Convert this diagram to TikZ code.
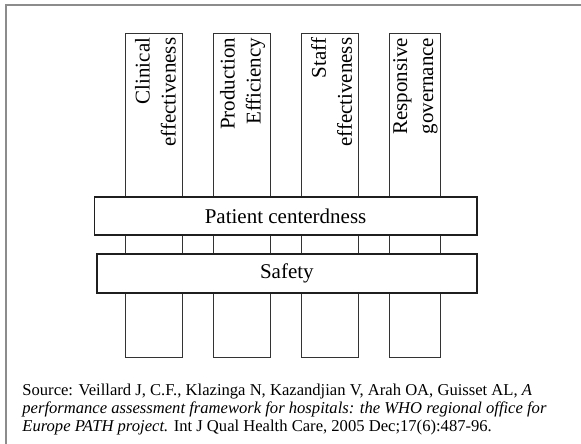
\documentclass[tikz,border=0pt]{standalone}
\usepackage{fontspec}
\setmainfont{Liberation Serif}
\begin{document}
\begin{tikzpicture}[x=1pt,y=-1pt,
  frameline/.style={draw=black!45, line width=1.5pt},
  pillar/.style={draw=black!80, line width=0.9pt, fill=white, inner sep=0pt, minimum height=324.2pt},
  band/.style={draw=black!88, line width=1.8pt, fill=white, inner sep=0pt, font=\fontsize{21}{25}\selectfont},
  ptext/.style={rotate=90, anchor=east, align=right, inner sep=0pt, font=\fontsize{21}{26}\selectfont},
  srctext/.style={anchor=base west, inner sep=0pt, font=\fontsize{16.6}{18.3}\selectfont}]
\useasboundingbox (0,0) rectangle (581,444);
% frame
\coordinate (fbl) at (6,444);
\coordinate (ftl) at (6,5);
\coordinate (ftr) at (581,5);
\draw[frameline] (fbl) -- (ftl) -- (ftr);
% pillars
\node[pillar, minimum width=57pt] (p1) at (153.7,195.6) {};
\node[pillar, minimum width=57.1pt] (p2) at (241.85,195.6) {};
\node[pillar, minimum width=57pt] (p3) at (329.6,195.6) {};
\node[pillar, minimum width=50.7pt] (p4) at (414.65,195.6) {};
\node[ptext] (t1) at (155.5,37.5) {Clinical\\effectiveness};
\node[ptext] (t2) at (242.6,37.5) {Production\\Efficiency};
\node[ptext] (t3) at (331.5,37.5) {Staff\\effectiveness};
\node[ptext] (t4) at (415.4,37.5) {Responsive\\governance};
% bands
\node[band, minimum width=382.3pt, minimum height=38.3pt] (pc) at (285.55,215.85) {Patient centerdness};
\node[band, minimum width=379.7pt, minimum height=38.4pt] (sf) at (286.85,273.5) {Safety};
% source
\node[srctext] (s1) at (22.2,395) {Source: Veillard J, C.F., Klazinga N, Kazandjian V, Arah OA, Guisset AL, \textit{A}};
\node[srctext] (s2) at (22.2,413.3) {\textit{performance assessment framework for hospitals: the WHO regional office for}};
\node[srctext] (s3) at (22.2,431.6) {\textit{Europe PATH project.} Int J Qual Health Care, 2005 Dec;17(6):487-96.};
\end{tikzpicture}
\end{document}
